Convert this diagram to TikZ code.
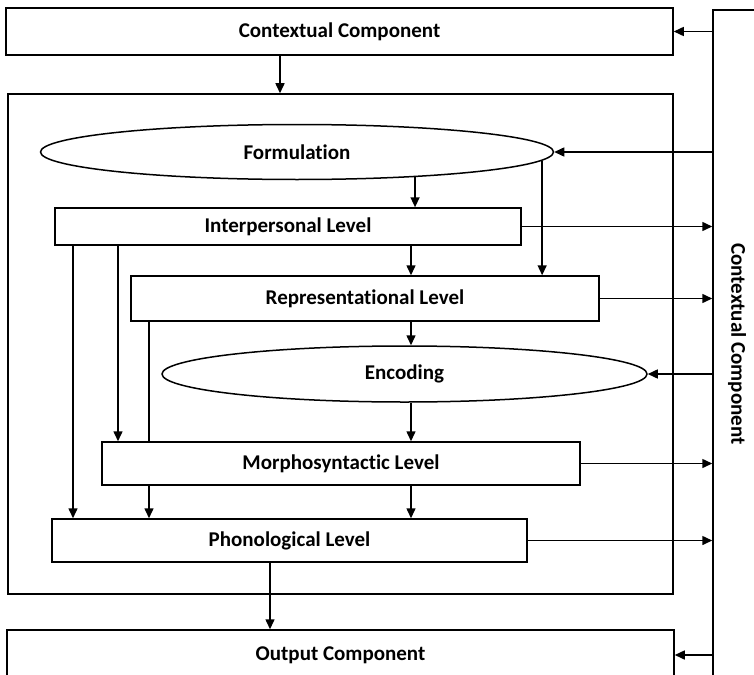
\documentclass[tikz,border=0pt]{standalone}
\usepackage{fontspec}
\setmainfont{Carlito}[RawFeature=-liga]
\usetikzlibrary{arrows.meta,shapes.geometric}
\tikzset{
  lbl/.style={font=\fontsize{21}{24}\selectfont\bfseries},
  box/.style={draw,line width=1.5pt,rectangle,inner sep=0pt,lbl},
  oval/.style={draw,line width=1.5pt,ellipse,inner sep=0pt,lbl},
  conn/.style={line width=1.5pt},
  arr/.style={conn,-{Triangle[length=10pt,width=9pt]}}
}
\begin{document}
\begin{tikzpicture}[x=1pt,y=-1pt]
\useasboundingbox (0,0) rectangle (754,674);
\clip (0,0) rectangle (754,674);

% outer frame around the grammar
\node[box,minimum width=665pt,minimum height=500pt] (gram) at (340.5,344) {};

% components
\node[box,minimum width=667pt,minimum height=47pt] (ctxtop) at (339.5,31.5) {Contextual Component};
\node[box,minimum width=80pt,minimum height=700pt] (ctxright) at (753,360) {};
\node[lbl,rotate=-90] (ctxlabel) at (737,344) {Contextual Component};
\node[box,minimum width=667pt,minimum height=50pt] (output) at (340.5,655) {Output Component};

% levels and operations
\node[oval,minimum width=513pt,minimum height=55pt] (form) at (297,152) {Formulation};
\node[box,minimum width=466pt,minimum height=37pt] (inter) at (288,226.5) {Interpersonal Level};
\node[box,minimum width=468pt,minimum height=45pt] (repr) at (365,298.5) {Representational Level};
\node[oval,minimum width=485pt,minimum height=56pt] (enc) at (404.5,374) {Encoding};
\node[box,minimum width=478pt,minimum height=43pt] (morph) at (341,463.5) {Morphosyntactic Level};
\node[box,minimum width=475pt,minimum height=43pt] (phon) at (289.5,540.5) {Phonological Level};

% column positions of the vertical connectors
\coordinate (cA) at (73,0);
\coordinate (cB) at (118,0);
\coordinate (cC) at (149,0);
\coordinate (cD) at (411,0);
\coordinate (cE) at (280,0);
\coordinate (cF) at (270,0);

% context feeds in
\draw[arr] (ctxright.west |- ctxtop.east) -- (ctxtop.east);
\draw[arr] (ctxtop.south -| cE) -- (gram.north -| cE);
\draw[arr] (ctxright.west |- form.east) -- (form.east);
\draw[arr] (ctxright.west |- enc.east) -- (enc.east);
\draw[arr] (ctxright.west |- output.east) -- (output.east);

% levels feed back to context
\draw[arr] (inter.east) -- (ctxright.west |- inter.east);
\draw[arr] (repr.east) -- (ctxright.west |- repr.east);
\draw[arr] (morph.east) -- (ctxright.west |- morph.east);
\draw[arr] (phon.east) -- (ctxright.west |- phon.east);

% downward flow
\draw[arr] (form.-12.2) -- (form.-12.2 |- inter.north);
\draw[arr] (form.-2.4) -- (form.-2.4 |- repr.north);
\draw[arr] (inter.south -| cD) -- (repr.north -| cD);
\draw[arr] (repr.south -| cD) -- (enc.north -| cD);
\draw[arr] (enc.south -| cD) -- (morph.north -| cD);
\draw[arr] (morph.south -| cD) -- (phon.north -| cD);
\draw[arr] (morph.south -| cC) -- (phon.north -| cC);
\draw[conn] (repr.south -| cC) -- (morph.north -| cC);
\draw[arr] (inter.south -| cB) -- (morph.north -| cB);
\draw[arr] (inter.south -| cA) -- (phon.north -| cA);
\draw[arr] (phon.south -| cF) -- (output.north -| cF);
\end{tikzpicture}
\end{document}
